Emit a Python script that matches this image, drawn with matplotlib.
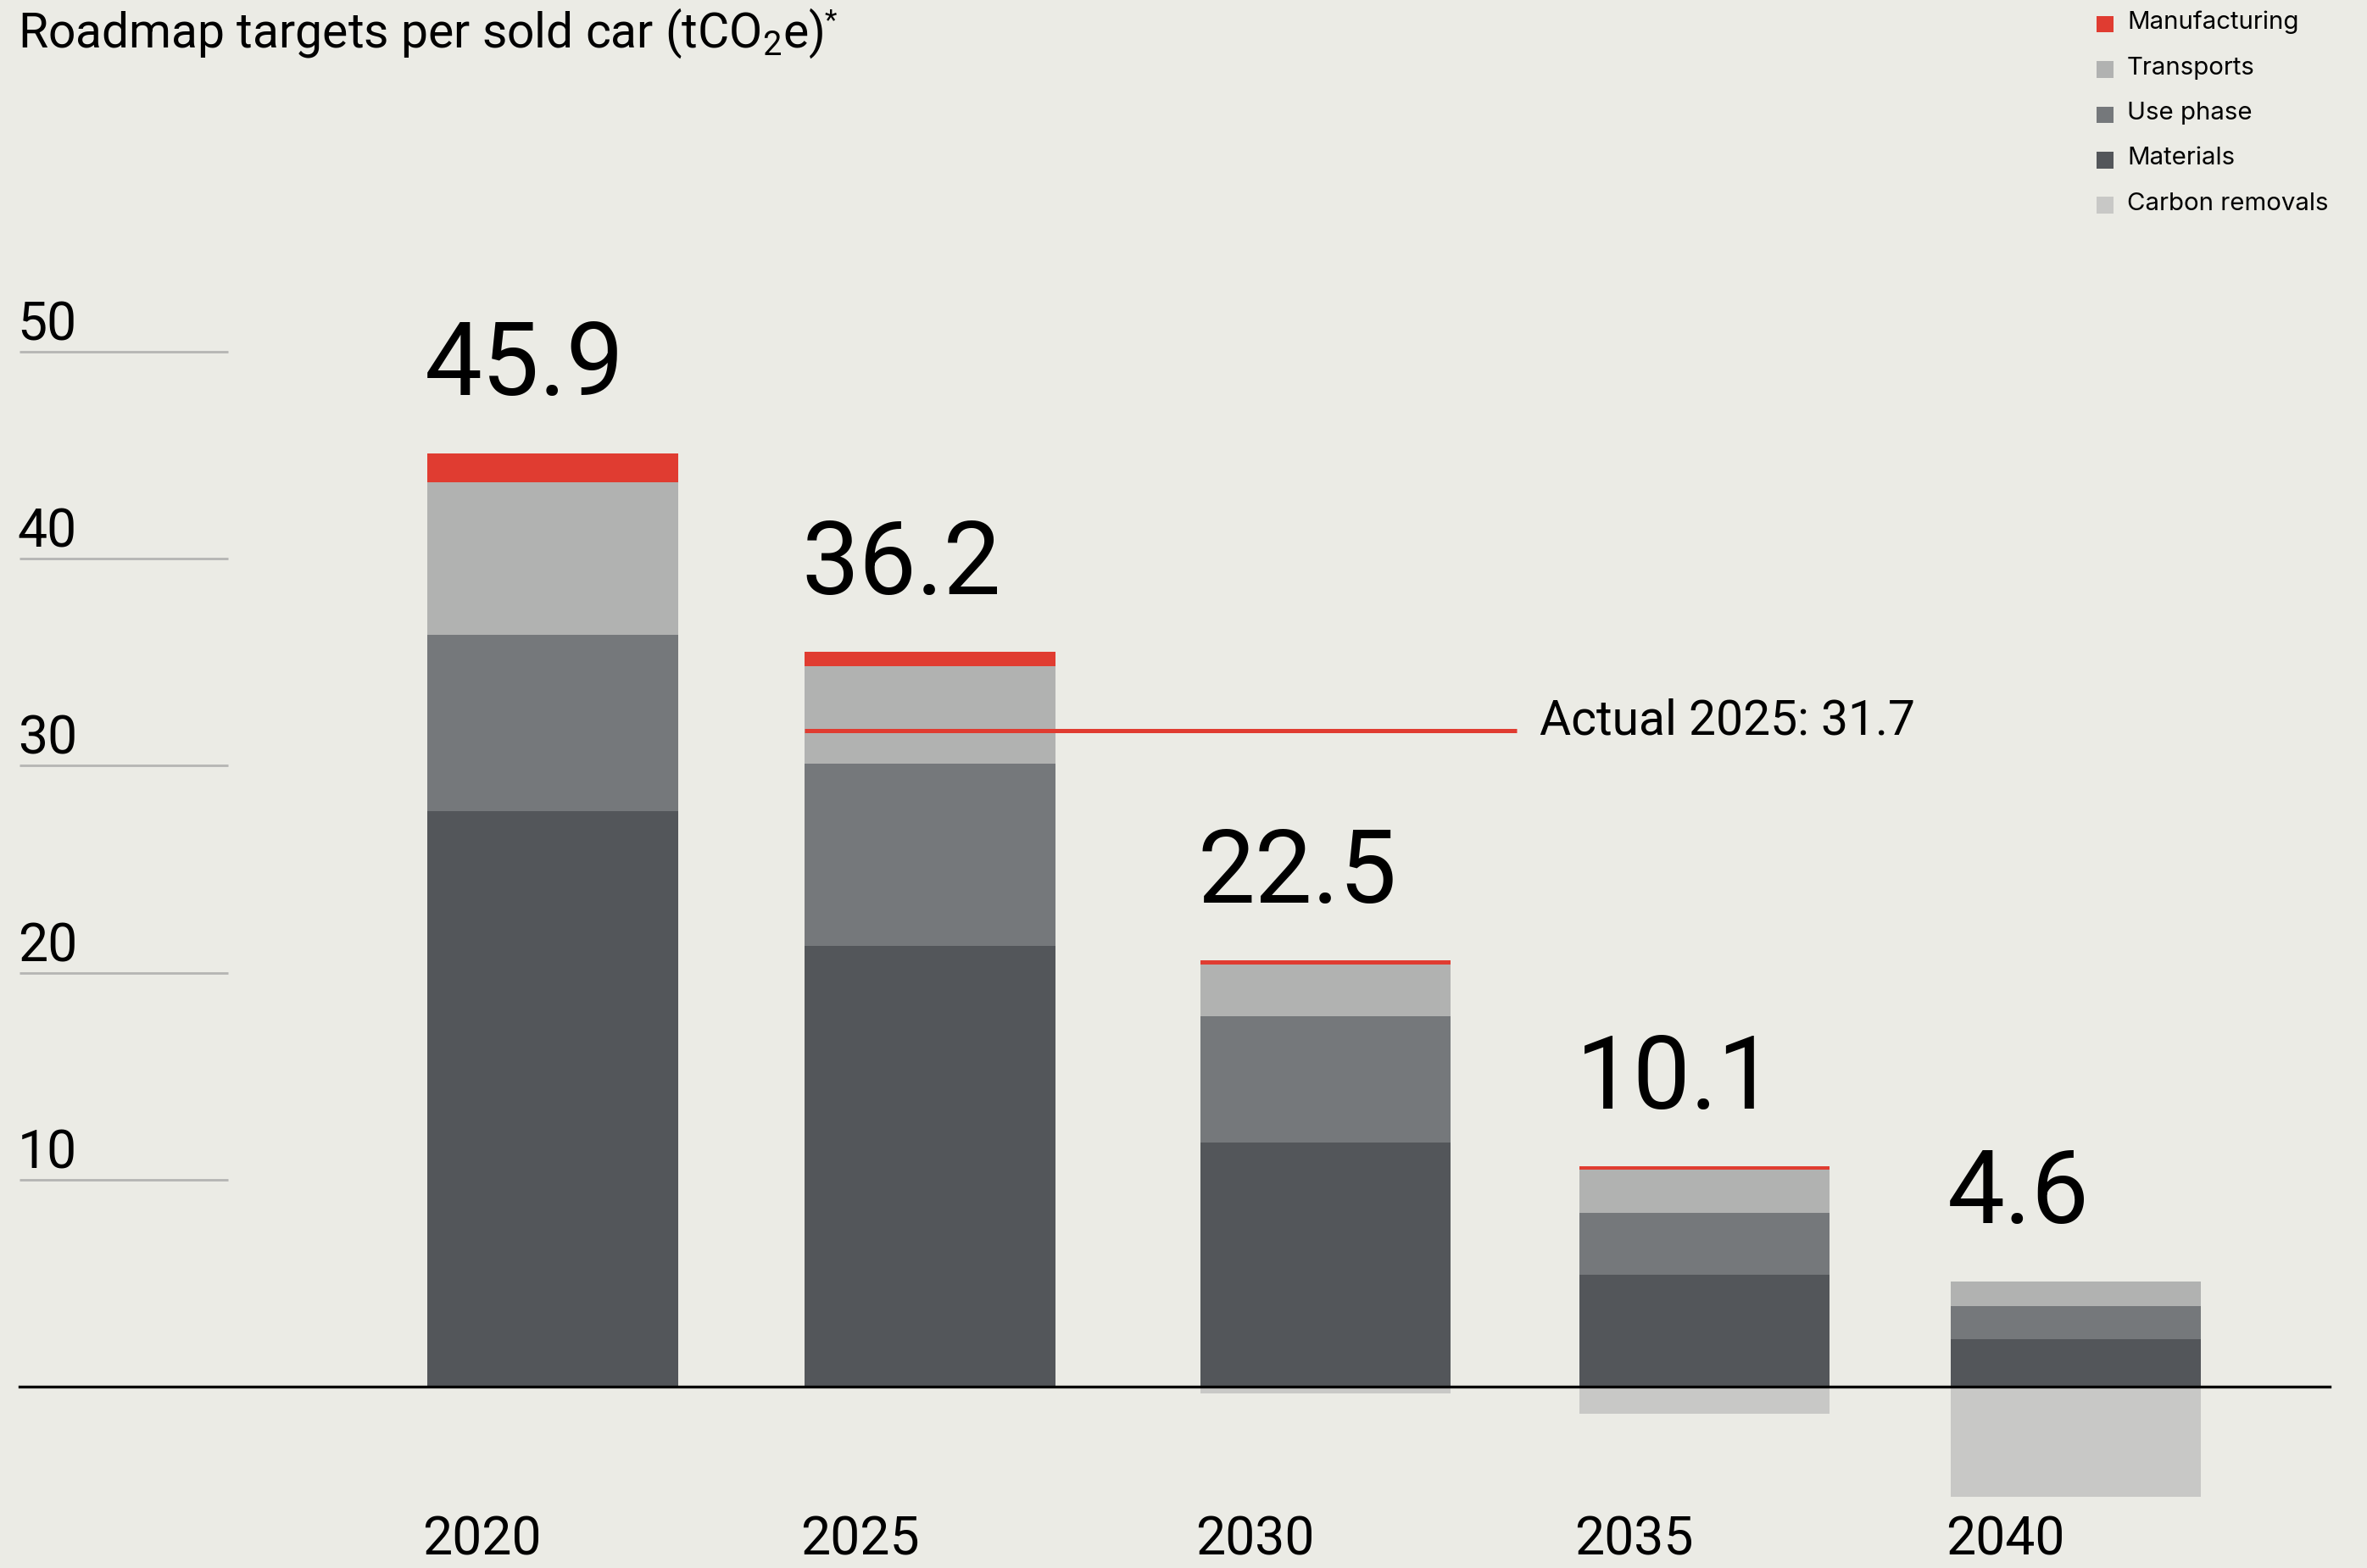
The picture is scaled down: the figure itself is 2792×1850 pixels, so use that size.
import matplotlib.pyplot as plt
from matplotlib.patches import Rectangle

# Roadmap data, tCO2e per sold car
years = ["2020", "2025", "2030", "2035", "2040"]
materials = [27.8, 21.3, 11.8, 5.4, 2.3]
use_phase = [8.5, 8.8, 6.1, 3.0, 1.6]
transports = [7.4, 4.7, 2.5, 2.1, 1.2]
manufacturing = [1.4, 0.7, 0.2, 0.15, 0.0]
carbon_removals = [0.0, 0.0, -0.3, -1.3, -5.3]
totals = ["45.9", "36.2", "22.5", "10.1", "4.6"]
actual_2025 = 31.7
yticks = [10, 20, 30, 40, 50]

# bar slots along the x axis
slots = [0.0, 0.991, 2.030, 3.025, 4.0]

BG = "#EBEBE5"
C_MANUF = "#E03C31"
C_TRANS = "#B1B2B1"
C_USE = "#75787B"
C_MAT = "#53565A"
C_REM = "#C8C8C6"

FONT = ["Roboto", "DejaVu Sans"]
REG = ["Inter", "DejaVu Sans"]

plt.rcParams["mathtext.fontset"] = "custom"
plt.rcParams["mathtext.rm"] = "Roboto"
plt.rcParams["mathtext.it"] = "Roboto"

W, H = 2792, 1850
dpi = 200
fig = plt.figure(figsize=(W / dpi, H / dpi), dpi=dpi, facecolor=BG)
ax = fig.add_axes([0, 0, 1, 1], facecolor=BG)

# scale: 1 unit = 13.72 px (of 1039 tall), zero line at 919
ax.set_ylim(-8.75, 66.98)
ax.set_xlim(-1.451, 4.765)
ax.axis("off")

bw = 0.658

bottom = [0.0] * len(slots)
for vals, col in [(materials, C_MAT), (use_phase, C_USE),
                  (transports, C_TRANS), (manufacturing, C_MANUF)]:
    ax.bar(slots, vals, bw, bottom=bottom, color=col, linewidth=0, zorder=2)
    bottom = [b + v for b, v in zip(bottom, vals)]
ax.bar(slots, carbon_removals, bw, color=C_REM, linewidth=0, zorder=2)

# left gridlines and tick labels
for t in yticks:
    ax.plot([-1.400, -0.853], [t, t], color="#B5B5B3", lw=1.0, zorder=1,
            solid_capstyle="butt")
    ax.text(-1.405, t + 0.55, str(t), fontsize=22.5, family=FONT,
            ha="left", va="baseline", color="black")

# zero line
ax.plot([-1.400, 4.666], [0, 0], color="black", lw=1.2, zorder=3)

# totals above bars and year labels below
for i, xc in enumerate(slots):
    left = xc - bw / 2
    ax.text(left - 0.008, bottom[i] + 2.8, totals[i], fontsize=43.5, family=FONT,
            ha="left", va="baseline", color="black")
    ax.text(left - 0.012, -8.1, years[i], fontsize=22.5, family=FONT,
            ha="left", va="baseline", color="black")

# actual 2025 marker
ax.plot([slots[1] - bw / 2, 2.533], [actual_2025, actual_2025], color=C_MANUF,
        lw=1.8, zorder=4, solid_capstyle="butt")
ax.text(2.593, actual_2025 - 0.2, "Actual 2025: 31.7", fontsize=20.5, family=FONT,
        ha="left", va="baseline", color="black")

# title, with the footnote star set tight against the closing bracket
title = fig.text(0.0075, 1 - 4 / 1039, r"Roadmap targets per sold car (tCO$_2$e)",
                 fontsize=20.5, family=FONT, ha="left", va="top", color="black")
bb = title.get_window_extent(renderer=fig.canvas.get_renderer())
fig.text(bb.x1 / W + 1 / W, bb.y1 / H - 2 / H, "*", fontsize=12, family=FONT,
         ha="left", va="top", color="black")

# legend
legend = [("Manufacturing", C_MANUF), ("Transports", C_TRANS),
          ("Use phase", C_USE), ("Materials", C_MAT),
          ("Carbon removals", C_REM)]
for k, (lab, col) in enumerate(legend):
    yc = 1 - (16 + 30 * k) / 1039
    sq = 11 / 1568
    fig.add_artist(Rectangle((1389 / 1568, yc - sq * W / H / 2), sq, sq * W / H,
                             transform=fig.transFigure, color=col, lw=0))
    fig.text(1409 / 1568, yc + 1 / 1039, lab, fontsize=10.6, family=REG,
             ha="left", va="center", color="black")

fig.savefig("out.png", dpi=dpi, facecolor=BG)
